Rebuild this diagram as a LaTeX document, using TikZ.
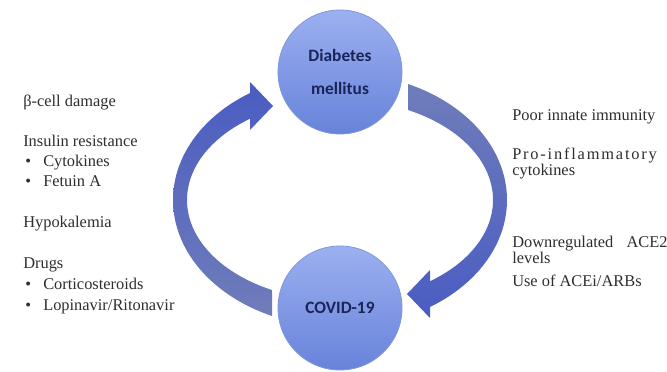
\documentclass[tikz,border=0pt]{standalone}
\usepackage{fontspec}
\setmainfont{Liberation Serif}
\newfontfamily\circfont{Carlito}
\definecolor{circTop}{HTML}{9CB0F0}
\definecolor{circBot}{HTML}{6783DA}
\definecolor{circEdge}{HTML}{7F95DE}
\definecolor{arrowTop}{HTML}{4A5CC2}
\definecolor{arrowBot}{HTML}{6F7DBA}
\definecolor{navy}{HTML}{1B2459}
\definecolor{textgray}{HTML}{2E2E2E}
\begin{document}
\begin{tikzpicture}[x=0.75pt,y=-0.75pt]
\tikzset{
  hub/.style={circle, minimum size=93pt, inner sep=0pt, top color=circTop, bottom color=circBot,
    draw=circEdge, line width=0.6pt, font=\circfont\bfseries\fontsize{13}{25}\selectfont,
    text=navy, align=center},
  txt/.style={anchor=mid west, inner sep=0pt, font=\fontsize{12.3}{14}\selectfont, text=textgray},
}
\useasboundingbox (0,0) rectangle (667,371);
\clip (0,0) rectangle (667,371);
\fill[white] (0,0) rectangle (667,371);

% left curved arrow (COVID-19 -> Diabetes)
\shade[top color=arrowTop, bottom color=arrowBot]
  plot[domain=114.03:237.39, samples=80] ({340+167*cos(\x)},{200+127*sin(\x)})
  -- (250,82) -- (273,106) -- (250,130)
  -- plot[domain=233.97:116.39, samples=80] ({340+153*cos(\x)},{200+100.5*sin(\x)})
  -- cycle;

% right curved arrow (Diabetes -> COVID-19)
\shade[top color=arrowBot, bottom color=arrowTop]
  plot[domain=114.03:237.39, samples=80] ({340-167*cos(\x)},{200-127*sin(\x)})
  -- (430,318) -- (407,294) -- (430,270)
  -- plot[domain=233.97:116.39, samples=80] ({340-153*cos(\x)},{200-100.5*sin(\x)})
  -- cycle;

\node[hub] (dm) at (340,72) {Diabetes\\mellitus};
\node[hub] (cv) at (340,308) {COVID-19};

% left texts
\node[txt] (l1) at (23,103) {β-cell damage};
\node[txt] (l2) at (23,143) {Insulin resistance};
\node[txt] (b1) at (25,163) {•};
\node[txt] (l3) at (43,163) {Cytokines};
\node[txt] (b2) at (25,183) {•};
\node[txt] (l4) at (43,183) {Fetuin A};
\node[txt] (l5) at (23,224) {Hypokalemia};
\node[txt] (l6) at (23,265) {Drugs};
\node[txt] (b3) at (25,286) {•};
\node[txt] (l7) at (43,286) {Corticosteroids};
\node[txt] (b4) at (25,307) {•};
\node[txt] (l8) at (43,307) {Lopinavir/Ritonavir};

% right texts
\node[txt] (r1) at (512,117) {Poor innate immunity};
\node[txt] (r2) at (512,156) {\addfontfeatures{LetterSpace=11}Pro-inflammatory};
\node[txt] (r3) at (512,172) {cytokines};
\node[txt] (r4) at (512,244) {Downregulated\hspace{0.8em}ACE2};
\node[txt] (r5) at (512,260) {levels};
\node[txt] (r6) at (512,283) {Use of ACEi/ARBs};
\end{tikzpicture}
\end{document}
